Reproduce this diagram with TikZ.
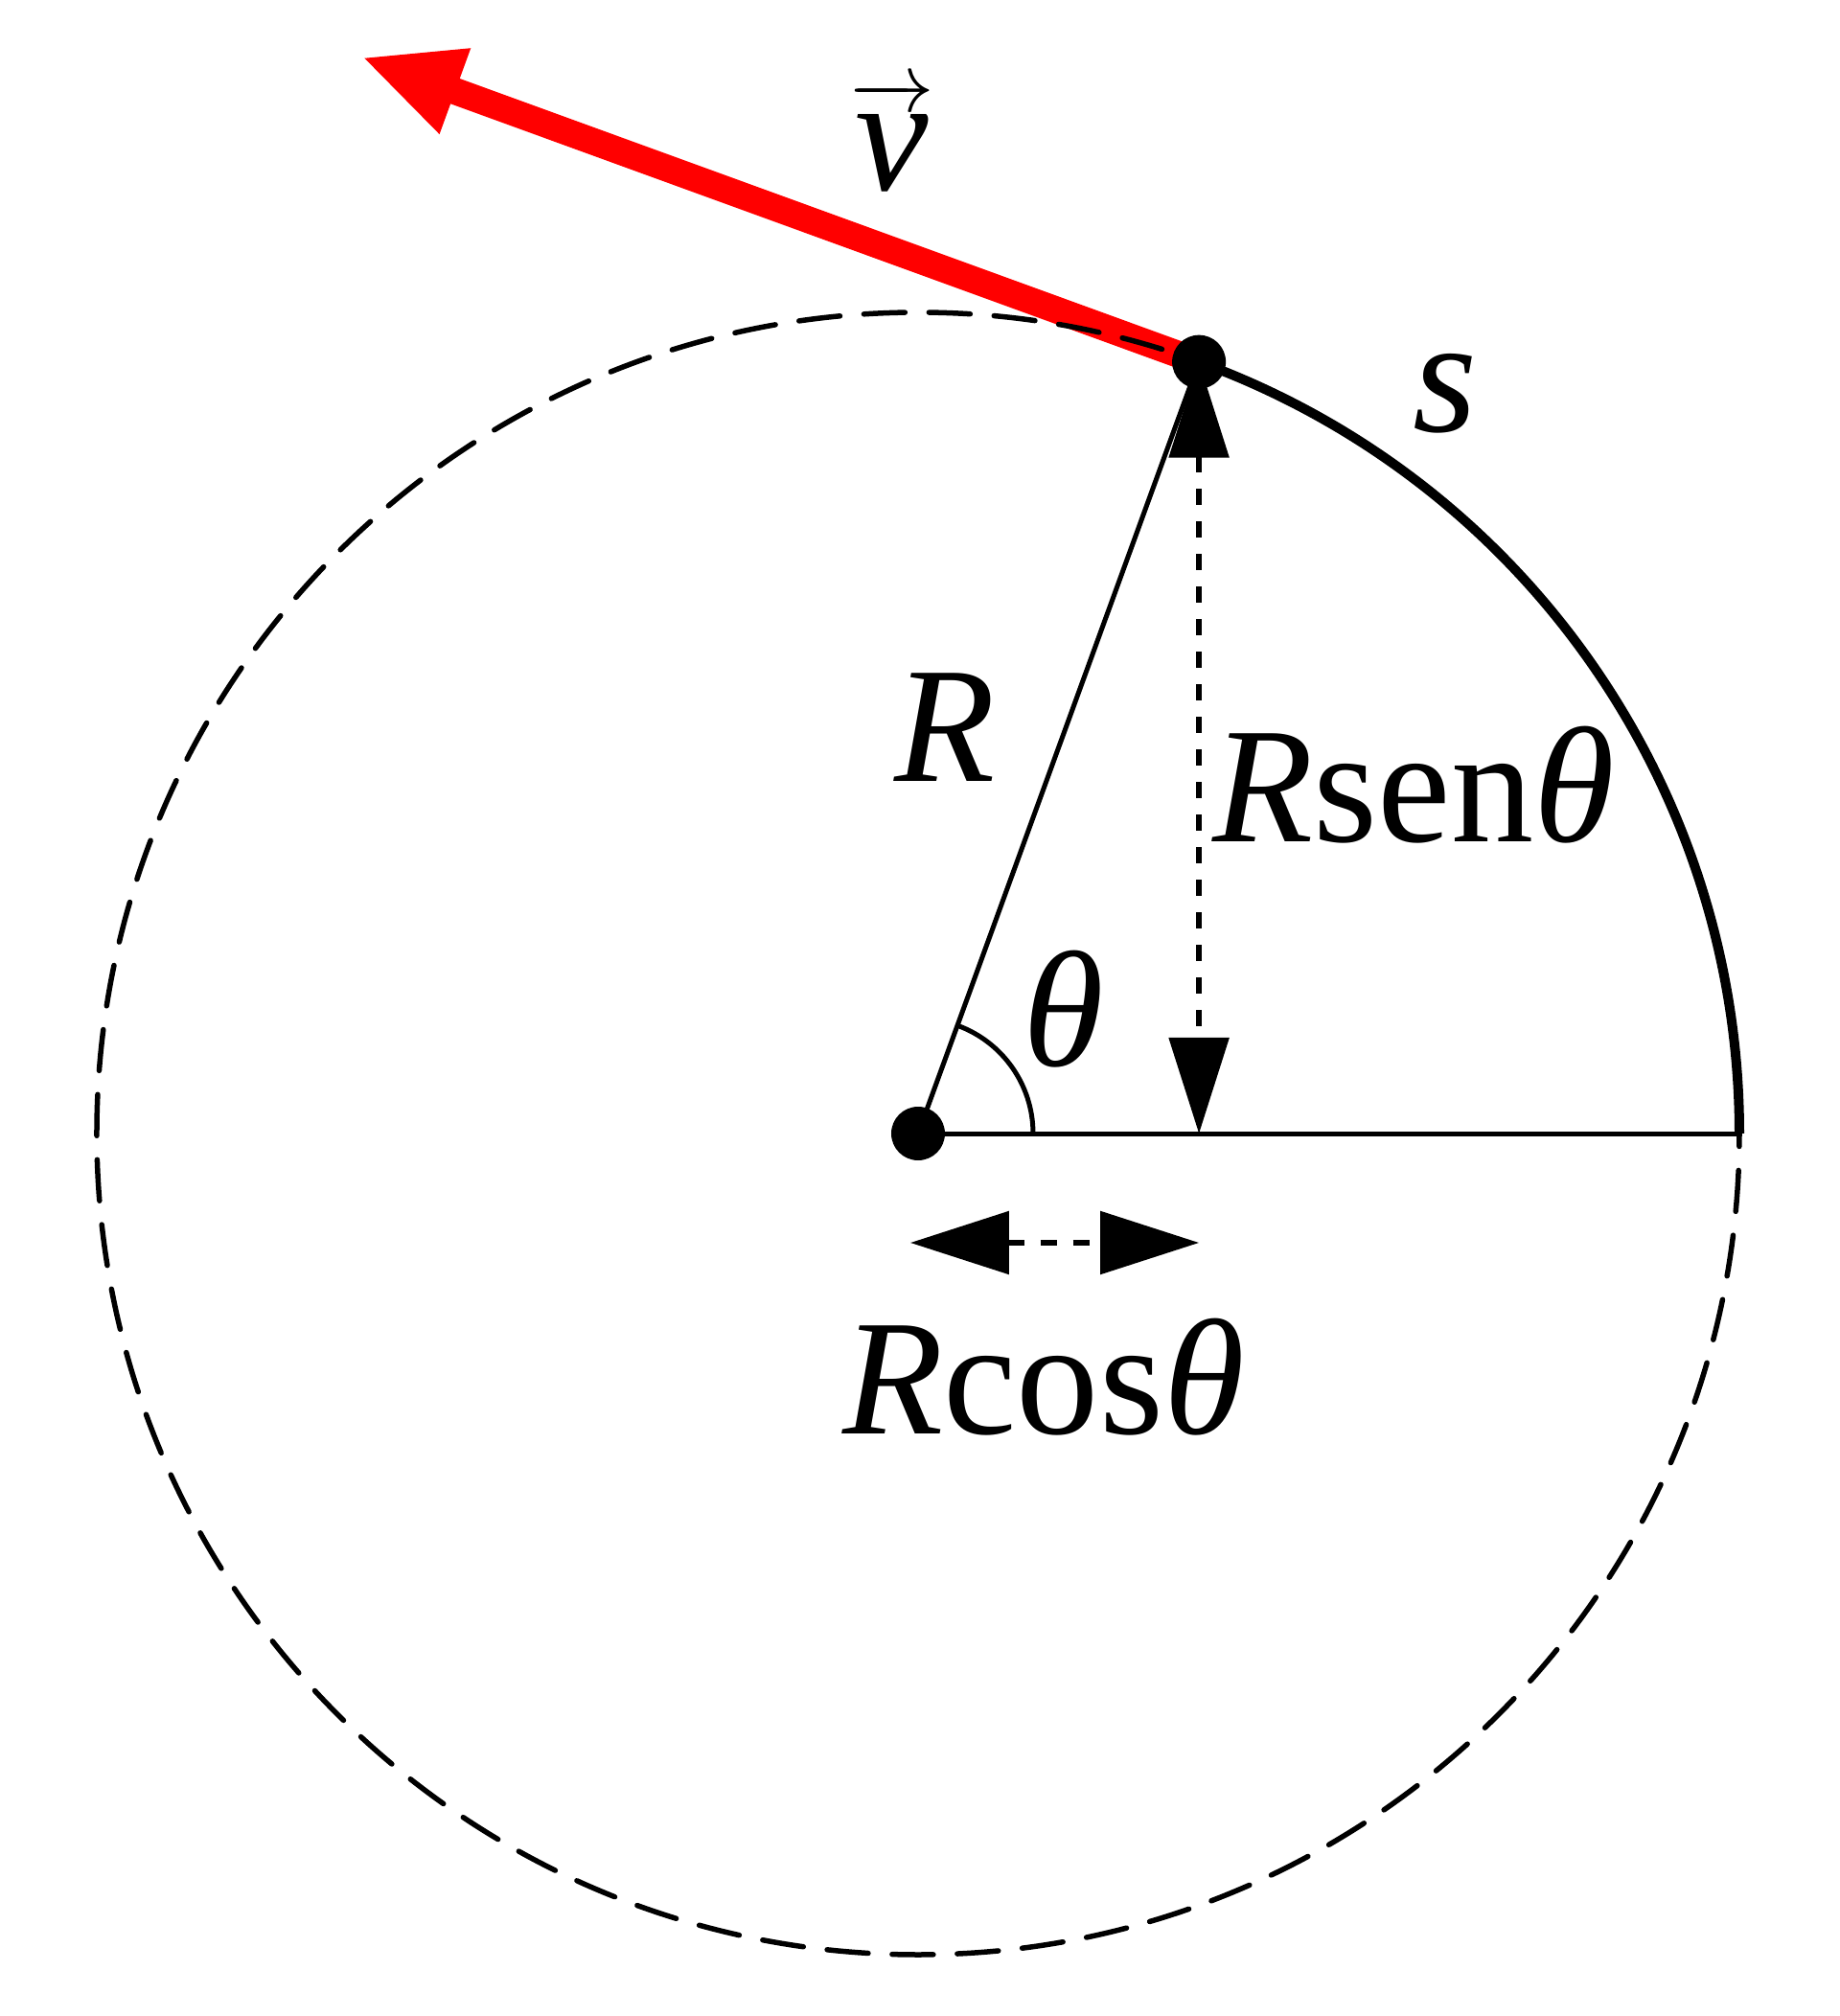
\documentclass[tikz,border=0pt]{standalone}
\usepackage{fontspec}
\setmainfont{Liberation Serif}
\usetikzlibrary{arrows.meta}

\begin{document}
\begin{tikzpicture}
    \tikzset{dot/.style={circle, fill, inner sep=0pt, minimum size=5.6mm},
      lbl/.style={font=\fontsize{49}{58}\selectfont, inner sep=0pt, anchor=base},
      dimline/.style={line width=0.55mm, dash pattern=on 1.7mm off 1.7mm},
      thin/.style={line width=0.5mm}}
    \def\Rad{8.57}
    \useasboundingbox (-9.58,-9.21) rectangle (9.62,11.83);
    \coordinate (O) at (0,0);
    \coordinate (P) at (70:\Rad);
    \coordinate (E) at (\Rad,0);
    \coordinate (F) at (P |- O);
    \path (P) ++(160:9.3) coordinate (V);
    \coordinate (H1) at (-0.08,-1.14);
    \coordinate (H2) at (P |- H1);
    \draw[red, line width=2.8mm, -{Triangle[length=10.4mm, width=8.7mm]}] (P) -- (V);
    \draw[line width=0.55mm, dash pattern=on 4.3mm off 2.5mm, line cap=round] (O) circle[radius=\Rad];
    \draw[line width=1mm] (E) arc[start angle=0, end angle=70, radius=\Rad];
    \draw[thin] (O) -- (P);
    \draw[thin] (O) -- (E);
    \draw[thin] (O) ++(1.2,0) arc[start angle=0, end angle=70, radius=1.2];
    \draw[dimline, {Triangle[length=10mm, width=6.2mm]}-{Triangle[length=10mm, width=6.2mm]}] (P) -- (F);
    \draw[dimline, {Triangle[length=10.3mm, width=6.5mm]}-{Triangle[length=10.3mm, width=6.5mm]}] (H1) -- (H2);
    \node[dot] (Pdot) at (P) {};
    \node[dot] (Odot) at (O) {};
    \node[lbl] (Rlbl) at (0.28,3.67) {\textit{R}};
    \node[lbl, anchor=base west] (Rsen) at (3.07,3.04) {\textit{R}sen\textit{θ}};
    \node[lbl] (th) at (1.52,0.71) {\textit{θ}};
    \node[lbl] (Rcos) at (1.31,-3.13) {\textit{R}cos\textit{θ}};
    \node[lbl] (s) at (5.50,7.32) {\textit{s}};
    \node[lbl] (v) at (-0.27,9.84) {$\overrightarrow{\raisebox{0pt}[0.5em]{\textit{v}}}$};
\end{tikzpicture}
\end{document}
